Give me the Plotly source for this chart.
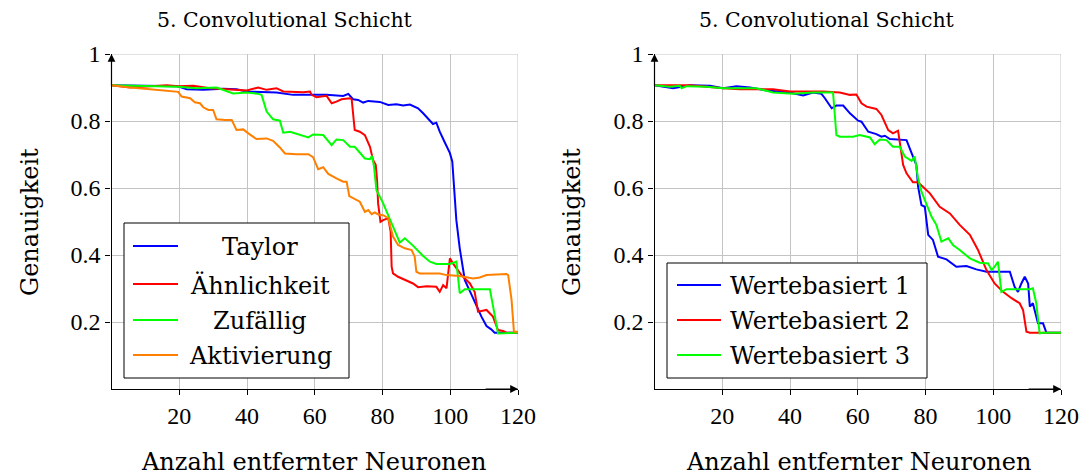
import plotly.graph_objects as go

# ---- accuracy vs. number of removed neurons, 5th conv layer ----
taylor_x = [0, 19.4, 22.2, 27.1, 33.0, 36.9, 39.9, 48.7, 53.6, 58.6, 63.5, 68.4, 69.9, 71.3, 72.8,
            74.3, 75.8, 79.2, 81.7, 84.1, 86.1, 88.1, 90.5, 92.0, 94.0, 94.9, 95.9, 96.9, 98.3, 99.9,
            100.6, 101.0, 101.3, 101.8, 102.8, 103.8, 104.3, 106.3, 108.2, 109.2, 110.7, 112.1, 113.1, 120]
taylor_y = [0.907, 0.904, 0.895, 0.893, 0.896, 0.895, 0.888, 0.885, 0.878, 0.878, 0.878, 0.875, 0.881, 0.865, 0.863,
            0.855, 0.860, 0.857, 0.848, 0.850, 0.846, 0.849, 0.838, 0.823, 0.803, 0.791, 0.795, 0.768, 0.738, 0.704,
            0.679, 0.629, 0.594, 0.504, 0.420, 0.355, 0.325, 0.281, 0.236, 0.216, 0.188, 0.178, 0.168, 0.168]

aehnl_x = [0, 5.5, 16.3, 19.7, 24.1, 29.1, 34.0, 39.9, 43.3, 45.8, 48.7, 50.7, 56.6, 58.6, 59.1, 60.5,
           63.5, 65.0, 66.4, 67.9, 70.4, 70.9, 71.8, 73.3, 74.8, 76.3, 77.2, 78.0, 78.4, 78.7, 79.4,
           80.2, 81.7, 82.4, 82.7, 83.1, 84.6, 86.6, 89.0, 90.5, 93.0, 95.9, 96.9, 97.9, 98.9, 99.9,
           100.8, 103.3, 105.8, 107.2, 108.2, 110.7, 112.6, 114.1, 115.6, 116.6, 120]
aehnl_y = [0.907, 0.900, 0.907, 0.904, 0.905, 0.898, 0.895, 0.891, 0.900, 0.893, 0.898, 0.888, 0.886, 0.888, 0.878, 0.871,
           0.875, 0.853, 0.858, 0.865, 0.868, 0.865, 0.773, 0.768, 0.758, 0.723, 0.684, 0.669, 0.624, 0.554, 0.499,
           0.504, 0.510, 0.470, 0.365, 0.345, 0.335, 0.325, 0.315, 0.304, 0.307, 0.305, 0.290, 0.310, 0.301, 0.390,
           0.375, 0.340, 0.315, 0.290, 0.231, 0.236, 0.216, 0.176, 0.173, 0.168, 0.168]

zufall_x = [0, 19.7, 25.1, 31.0, 35.9, 39.9, 43.3, 44.3, 45.8, 47.7, 49.7, 50.7, 52.7, 55.6, 58.1, 59.5,
            62.5, 65.0, 66.4, 68.4, 70.4, 71.8, 73.3, 74.8, 76.3, 76.9, 77.5, 78.2, 80.2, 82.2, 83.6,
            85.1, 86.6, 89.0, 92.0, 94.0, 95.9, 99.9, 101.8, 102.8, 104.3, 111.7, 113.2, 114.1, 120]
zufall_y = [0.907, 0.902, 0.898, 0.900, 0.882, 0.885, 0.881, 0.878, 0.828, 0.805, 0.801, 0.765, 0.768, 0.758, 0.751, 0.760,
            0.758, 0.728, 0.745, 0.743, 0.723, 0.723, 0.705, 0.688, 0.686, 0.696, 0.664, 0.594, 0.554, 0.504, 0.470,
            0.437, 0.450, 0.428, 0.397, 0.380, 0.373, 0.373, 0.380, 0.286, 0.298, 0.298, 0.216, 0.166, 0.168]

aktiv_x = [0, 5.5, 11.4, 16.3, 19.7, 20.7, 23.2, 24.6, 26.1, 27.1, 28.6, 30.0, 31.0, 33.5, 35.5, 36.9,
           38.9, 40.4, 42.8, 45.8, 47.7, 49.7, 51.2, 54.6, 58.1, 59.5, 61.0, 62.5, 64.0, 66.4, 68.4,
           69.4, 70.2, 73.3, 74.8, 75.8, 76.8, 77.7, 78.7, 80.2, 81.7, 83.1, 84.6, 86.6, 88.6, 89.5,
           90.0, 91.0, 96.9, 98.9, 102.8, 106.7, 108.7, 110.7, 116.6, 117.1, 118.1, 118.8, 120]
aktiv_y = [0.907, 0.900, 0.895, 0.890, 0.887, 0.873, 0.868, 0.856, 0.853, 0.841, 0.833, 0.833, 0.805, 0.803, 0.803, 0.773,
           0.775, 0.763, 0.746, 0.748, 0.741, 0.721, 0.703, 0.701, 0.701, 0.692, 0.656, 0.662, 0.642, 0.629, 0.619,
           0.619, 0.576, 0.559, 0.529, 0.534, 0.522, 0.527, 0.521, 0.519, 0.510, 0.455, 0.430, 0.420, 0.415, 0.395,
           0.350, 0.345, 0.345, 0.340, 0.337, 0.330, 0.333, 0.340, 0.343, 0.340, 0.266, 0.171, 0.171]

wert1_x = [0, 3.6, 5.5, 10.5, 16.4, 20.3, 24.2, 28.2, 33.1, 37.0, 40.9, 43.9, 46.8, 49.3, 50.3, 52.3,
           53.7, 55.7, 57.7, 60.1, 61.1, 63.1, 65.5, 67.0, 68.0, 69.5, 71.4, 74.4, 75.9, 76.3, 77.3,
           77.8, 78.8, 79.8, 80.8, 82.2, 83.7, 86.2, 89.1, 92.1, 95.0, 98.0, 104.9, 106.3, 107.3, 108.3,
           109.3, 110.3, 110.8, 111.7, 113.2, 114.7, 115.7, 120]
wert1_y = [0.907, 0.900, 0.898, 0.907, 0.905, 0.898, 0.904, 0.900, 0.891, 0.888, 0.883, 0.876, 0.885, 0.881, 0.868, 0.838,
           0.846, 0.846, 0.823, 0.801, 0.798, 0.768, 0.761, 0.753, 0.756, 0.746, 0.745, 0.743, 0.704, 0.694, 0.669,
           0.605, 0.549, 0.544, 0.460, 0.445, 0.395, 0.387, 0.365, 0.367, 0.357, 0.350, 0.350, 0.305, 0.290, 0.315,
           0.335, 0.315, 0.246, 0.256, 0.196, 0.196, 0.168, 0.168]

wert2_x = [0, 10.5, 20.3, 25.2, 35.0, 40.0, 49.8, 54.7, 57.7, 59.6, 61.1, 62.6, 65.5, 67.0, 69.0, 70.4,
           71.9, 72.4, 73.4, 74.4, 76.3, 77.8, 79.3, 81.3, 84.2, 87.2, 90.1, 93.1, 95.5, 98.0, 100.4,
           102.9, 105.4, 107.8, 108.8, 109.8, 110.8, 120]
wert2_y = [0.907, 0.907, 0.898, 0.895, 0.895, 0.888, 0.888, 0.885, 0.878, 0.879, 0.853, 0.843, 0.836, 0.818, 0.773, 0.763,
           0.771, 0.738, 0.669, 0.644, 0.617, 0.617, 0.604, 0.584, 0.544, 0.524, 0.490, 0.460, 0.415, 0.355, 0.315,
           0.290, 0.271, 0.256, 0.236, 0.171, 0.168, 0.168]

wert3_x = [0, 4.6, 7.5, 8.0, 9.5, 15.4, 20.3, 30.1, 35.0, 40.9, 46.8, 52.7, 53.7, 54.7, 58.6, 60.6,
           63.6, 65.0, 66.5, 68.5, 70.4, 72.4, 73.9, 75.9, 76.8, 77.8, 78.8, 79.8, 81.8, 83.2, 84.7,
           86.7, 88.1, 90.1, 93.1, 96.0, 98.5, 99.5, 100.4, 101.4, 102.4, 103.9, 110.8, 111.7, 112.7, 113.7,
           114.7, 120]
wert3_y = [0.907, 0.902, 0.905, 0.898, 0.904, 0.902, 0.898, 0.898, 0.885, 0.881, 0.885, 0.885, 0.758, 0.753, 0.753, 0.758,
           0.751, 0.731, 0.745, 0.743, 0.723, 0.723, 0.694, 0.681, 0.694, 0.629, 0.589, 0.564, 0.514, 0.490, 0.440,
           0.450, 0.430, 0.415, 0.390, 0.377, 0.375, 0.355, 0.365, 0.380, 0.290, 0.298, 0.298, 0.301, 0.256, 0.166,
           0.168, 0.168]

x_ticks = [20, 40, 60, 80, 100, 120]
y_ticks = [0.2, 0.4, 0.6, 0.8, 1.0]
y_ticktext = ["0.2", "0.4", "0.6", "0.8", "1"]

BLUE, RED, GREEN, ORANGE = "#0000ff", "#ff0000", "#00ff00", "#ff8000"
SERIF = "DejaVu Serif, Liberation Serif, serif"
NUM_SERIF = "Liberation Serif, Times New Roman, DejaVu Serif, serif"
GRID = "#c4c4c4"

left_series = [("Taylor", taylor_x, taylor_y, BLUE),
               ("Ähnlichkeit", aehnl_x, aehnl_y, RED),
               ("Zufällig", zufall_x, zufall_y, GREEN),
               ("Aktivierung", aktiv_x, aktiv_y, ORANGE)]
right_series = [("Wertebasiert 1", wert1_x, wert1_y, BLUE),
                ("Wertebasiert 2", wert2_x, wert2_y, RED),
                ("Wertebasiert 3", wert3_x, wert3_y, GREEN)]

fig = go.Figure()
for name, xs, ys, col in left_series:
    fig.add_trace(go.Scatter(x=xs, y=ys, mode="lines", name=name,
                             line=dict(color=col, width=2), xaxis="x", yaxis="y"))
for name, xs, ys, col in right_series:
    fig.add_trace(go.Scatter(x=xs, y=ys, mode="lines", name=name,
                             line=dict(color=col, width=2), xaxis="x2", yaxis="y2"))

W, H = 1090, 475
M_T, M_B = 54, 86
left_dom = [111.5 / W, 518 / W]
right_dom = [654.5 / W, 1061 / W]

axis_common = dict(showgrid=True, gridcolor=GRID, gridwidth=1, zeroline=False, automargin=False,
                   showline=True, linecolor="black", linewidth=1.2,
                   ticks="outside", ticklen=5, tickcolor="black",
                   tickfont=dict(family=NUM_SERIF, size=24, color="black"))
xaxis_common = dict(axis_common, range=[0, 120], tickvals=x_ticks, ticktext=[str(v) for v in x_ticks])
yaxis_common = dict(axis_common, range=[0, 1], tickvals=y_ticks, ticktext=y_ticktext)

fig.update_layout(
    width=W, height=H, margin=dict(l=0, r=0, t=M_T, b=M_B, autoexpand=False),
    plot_bgcolor="white", paper_bgcolor="white", showlegend=False,
    xaxis=dict(xaxis_common, domain=left_dom, anchor="y"),
    yaxis=dict(yaxis_common, domain=[0, 1], anchor="x"),
    xaxis2=dict(xaxis_common, domain=right_dom, anchor="y2"),
    yaxis2=dict(yaxis_common, domain=[0, 1], anchor="x2"),
)

# border lines at the top and right of each plot area, plus axis arrow heads
for xr, yr in (("x", "y"), ("x2", "y2")):
    fig.add_shape(type="line", xref=xr, yref=yr, x0=0, x1=120, y0=1, y1=1,
                  line=dict(color=GRID, width=1), layer="below")
    fig.add_shape(type="line", xref=xr, yref=yr, x0=120, x1=120, y0=0, y1=1,
                  line=dict(color=GRID, width=1), layer="below")
    fig.add_annotation(x=0, y=1.0, ax=0, ay=0.9, xref=xr, yref=yr, axref=xr, ayref=yr,
                       showarrow=True, arrowhead=2, arrowsize=1.3, arrowwidth=1.2,
                       arrowcolor="black", text="")
    fig.add_annotation(x=120, y=0, ax=110, ay=0, xref=xr, yref=yr, axref=xr, ayref=yr,
                       showarrow=True, arrowhead=2, arrowsize=1.3, arrowwidth=1.2,
                       arrowcolor="black", text="")

def px(pix):
    return pix / W

def py(pix):
    return (H - M_B - pix) / (H - M_T - M_B)

# legend boxes: frame, line sample and label per series
def draw_legend(series, box, line_x, rows, text_x, text_anchor):
    x0, y0, x1, y1 = box
    fig.add_shape(type="rect", xref="paper", yref="paper",
                  x0=px(x0), x1=px(x1), y0=py(y1), y1=py(y0),
                  line=dict(color="black", width=1), fillcolor="white", layer="above")
    for (name, _, _, col), ry in zip(series, rows):
        fig.add_shape(type="line", xref="paper", yref="paper",
                      x0=px(line_x[0]), x1=px(line_x[1]), y0=py(ry), y1=py(ry),
                      line=dict(color=col, width=2), layer="above")
        fig.add_annotation(text=name, x=px(text_x), y=py(ry + 1), xref="paper", yref="paper",
                           showarrow=False, xanchor=text_anchor, yanchor="middle",
                           font=dict(family=SERIF, size=24, color="black"))

draw_legend(left_series, (124, 223, 349, 378), (133, 178), (246, 284, 320, 355), 260, "center")
draw_legend(right_series, (667, 263, 927, 378), (677, 721), (285, 320, 355), 728, "left")

title_font = dict(family=SERIF, size=20.5, color="black")
label_font = dict(family=SERIF, size=24, color="black")
for cx in (285, 827):
    fig.add_annotation(text="5. Convolutional Schicht", x=px(cx), y=py(20), xref="paper", yref="paper",
                       showarrow=False, font=title_font, xanchor="center", yanchor="middle")
for cx in (313.5, 858):
    fig.add_annotation(text="Anzahl entfernter Neuronen", x=px(cx), y=py(462), xref="paper", yref="paper",
                       showarrow=False, font=label_font, xanchor="center", yanchor="middle")
for cx in (30, 572):
    fig.add_annotation(text="Genauigkeit", x=px(cx), y=py(222), xref="paper", yref="paper",
                       showarrow=False, font=label_font, textangle=-90, xanchor="center", yanchor="middle")

fig.write_html("out.html")
